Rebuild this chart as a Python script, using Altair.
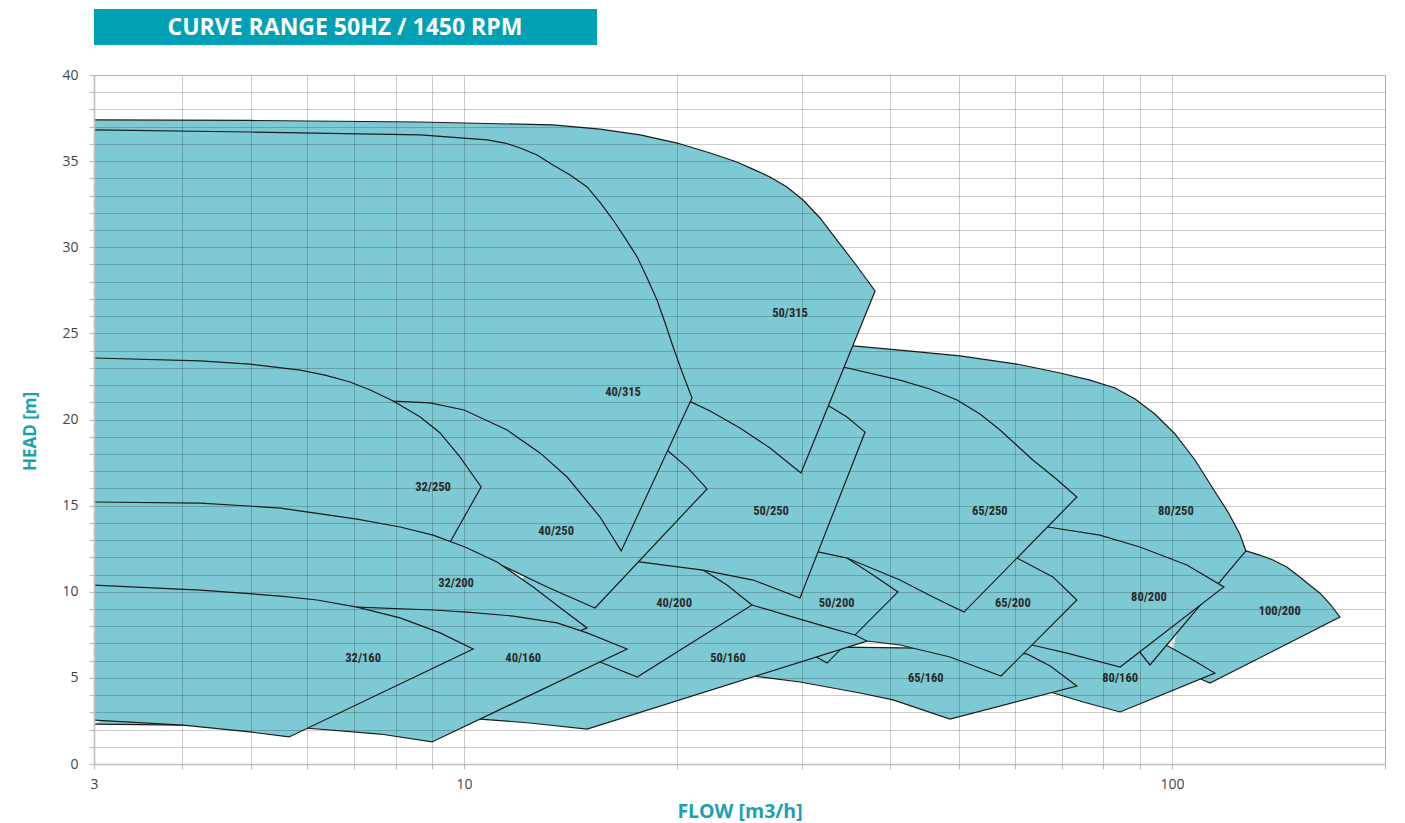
import altair as alt
import pandas as pd

# Operating ranges of the pump sizes at 1450 rpm.
# Each range: top curve and bottom curve as (flow m3/h, head m), both listed left to right.
T_50_315 = [(3.0, 37.39), (4.98, 37.36), (8.67, 37.27), (13.35, 37.10), (15.56, 36.86), (17.73, 36.52),
            (20.0, 36.05), (22.26, 35.47), (24.29, 34.95), (25.77, 34.48), (27.05, 34.08), (28.58, 33.50),
            (30.12, 32.74), (31.83, 31.70), (33.63, 30.42), (35.79, 28.97), (38.07, 27.46)]
B_50_315 = [(3.0, 24.03), (10.0, 23.45), (15.56, 22.29), (20.92, 21.02), (22.26, 20.49), (24.53, 19.51),
            (27.05, 18.35), (29.92, 16.89)]

T_40_315 = [(3.0, 36.81), (4.98, 36.69), (8.67, 36.52), (10.78, 36.23), (11.43, 36.05), (12.0, 35.76),
            (12.68, 35.36), (13.35, 34.77), (14.12, 34.19), (14.92, 33.50), (15.56, 32.60), (16.24, 31.58),
            (16.88, 30.54), (17.56, 29.43), (18.14, 28.21), (18.73, 26.94), (19.23, 25.60), (19.74, 24.21),
            (20.32, 22.76), (20.99, 21.25)]
B_40_315 = [(3.0, 22.0), (5.87, 21.6), (7.94, 21.07), (8.95, 20.96), (10.0, 20.55), (11.5, 19.39),
            (12.8, 18.06), (13.98, 16.66), (15.56, 14.34), (16.67, 12.37)]

T_32_250 = [(3.0, 23.57), (4.24, 23.40), (4.98, 23.22), (5.87, 22.87), (6.36, 22.58), (6.90, 22.18),
            (7.37, 21.71), (7.94, 21.07), (8.67, 20.15), (9.25, 19.22), (9.87, 17.82), (10.57, 16.08)]
B_32_250 = [(3.0, 14.46), (6.90, 13.88), (9.52, 12.77)]

T_32_200 = [(3.0, 15.21), (4.24, 15.15), (5.50, 14.86), (7.06, 14.22), (8.12, 13.76), (9.04, 13.29),
            (10.03, 12.60), (11.13, 11.73), (12.52, 10.28), (13.80, 8.94), (14.92, 7.90)]
B_32_200 = [(3.0, 9.52), (7.06, 8.07), (12.8, 6.73)]

T_40_160 = [(7.06, 9.11), (9.04, 8.94), (10.1, 8.82), (11.73, 8.59), (13.53, 8.19), (14.92, 7.61), (16.99, 6.68)]
B_40_160 = [(3.0, 2.32), (4.01, 2.26), (4.98, 2.21), (5.96, 2.09), (7.61, 1.74), (9.01, 1.28)]

T_32_160 = [(3.0, 10.39), (4.24, 10.10), (5.50, 9.75), (6.20, 9.52), (7.06, 9.11), (8.12, 8.48),
            (9.25, 7.61), (10.3, 6.68)]
B_32_160 = [(3.0, 2.55), (4.01, 2.26), (4.98, 1.86), (5.66, 1.57)]

T_40_250 = [(6.90, 22.0), (8.67, 21.42), (12.0, 20.55), (15.56, 19.68), (17.73, 18.98), (19.42, 18.17),
            (20.72, 17.18), (22.04, 15.97)]
B_40_250 = [(6.90, 13.58), (8.67, 12.71), (11.13, 11.67), (13.10, 10.28), (15.31, 9.06)]

T_50_250 = [(20.19, 23.16), (24.53, 22.58), (28.87, 21.71), (32.77, 20.78), (34.75, 20.15), (36.85, 19.27)]
B_50_250 = [(15.56, 11.84), (17.67, 11.73), (21.76, 11.26), (25.60, 10.68), (29.82, 9.64)]

T_40_200 = [(13.67, 12.31), (15.56, 12.08), (18.31, 11.96), (21.76, 11.26), (23.52, 10.39), (25.51, 9.23)]
B_40_200 = [(10.53, 9.06), (12.0, 7.78), (15.56, 5.92), (17.56, 5.05)]

T_50_160 = [(15.56, 9.64), (21.54, 9.52), (25.51, 9.23), (29.15, 8.53), (32.88, 7.90), (35.67, 7.49), (37.09, 7.14)]
B_50_160 = [(8.95, 2.84), (10.53, 2.61), (12.39, 2.38), (14.92, 2.03)]

T_50_200 = [(20.19, 13.58), (22.99, 13.29), (26.19, 13.0), (31.83, 12.31), (34.75, 11.96), (37.82, 10.97),
            (41.02, 9.99)]
B_50_200 = [(20.19, 7.78), (22.99, 7.20), (26.19, 6.91), (31.11, 6.33), (32.56, 5.86)]

T_65_160 = [(28.87, 6.62), (34.30, 6.79), (44.06, 6.73), (53.56, 6.56), (62.4, 6.39), (67.3, 5.69), (73.4, 4.53)]
B_65_160 = [(21.54, 5.57), (25.60, 5.11), (29.82, 4.76), (36.25, 4.12), (40.36, 3.72), (48.58, 2.61)]

T_65_200 = [(35.09, 13.58), (41.29, 13.29), (50.19, 12.71), (60.40, 11.96), (67.9, 10.86), (73.4, 9.52)]
B_65_200 = [(34.30, 7.43), (37.09, 7.14), (41.29, 6.91), (48.58, 6.21), (57.36, 5.11)]

T_65_250 = [(29.82, 23.57), (34.30, 23.05), (41.29, 22.29), (45.5, 21.77), (49.7, 21.13), (53.56, 20.32),
            (57.17, 19.39), (63.6, 17.65), (68.4, 16.60), (73.4, 15.50)]
B_65_250 = [(31.62, 12.31), (34.75, 11.96), (41.29, 10.68), (45.96, 9.70), (50.84, 8.82)]

T_80_250 = [(29.82, 24.38), (35.43, 24.27), (41.29, 24.03), (50.19, 23.69), (60.40, 23.22), (69.5, 22.70),
            (76.6, 22.29), (83.1, 21.83), (88.7, 21.19), (94.6, 20.32), (101.0, 19.16), (107.8, 17.65),
            (113.9, 16.08), (120.0, 14.63), (124.7, 13.35), (127.2, 12.37)]
B_80_250 = [(37.45, 14.17), (50.19, 10.10), (69.5, 8.07), (90.1, 6.50), (93.1, 5.75)]

T_80_200 = [(55.3, 14.17), (66.8, 13.76), (79.1, 13.29), (90.1, 12.60), (105.0, 11.55), (118.4, 10.28)]
B_80_200 = [(53.56, 7.78), (63.4, 6.91), (71.1, 6.44), (84.5, 5.63)]

T_80_160 = [(57.17, 7.20), (79.1, 7.78), (98.7, 6.85), (107.1, 6.04), (115.0, 5.28)]
B_80_160 = [(57.17, 4.30), (67.3, 4.18), (74.9, 3.60), (84.5, 3.02)]

T_100_200 = [(109.5, 13.0), (127.2, 12.37), (133.1, 12.13), (138.9, 11.84), (145.3, 11.44), (151.6, 10.86),
             (157.1, 10.33), (161.8, 9.93), (167.7, 9.23), (172.7, 8.53)]
B_100_200 = [(99.4, 6.04), (110.6, 4.88), (113.2, 4.70)]

# Painting order: later ranges are drawn over earlier ones.
RANGES = [
    ("100/200", T_100_200, B_100_200), ("80/160", T_80_160, B_80_160), ("80/250", T_80_250, B_80_250),
    ("80/200", T_80_200, B_80_200), ("65/160", T_65_160, B_65_160), ("65/200", T_65_200, B_65_200),
    ("50/200", T_50_200, B_50_200), ("50/160", T_50_160, B_50_160), ("40/200", T_40_200, B_40_200),
    ("65/250", T_65_250, B_65_250), ("50/250", T_50_250, B_50_250), ("40/250", T_40_250, B_40_250),
    ("50/315", T_50_315, B_50_315), ("40/315", T_40_315, B_40_315), ("32/250", T_32_250, B_32_250),
    ("32/200", T_32_200, B_32_200), ("40/160", T_40_160, B_40_160), ("32/160", T_32_160, B_32_160),
]

LABELS = ["32/160", "40/160", "50/160", "65/160", "80/160", "32/200", "40/200", "50/200", "65/200",
          "80/200", "100/200", "32/250", "40/250", "50/250", "65/250", "80/250", "40/315", "50/315"]
LABEL_Q = [7.20, 12.12, 23.6, 44.9, 84.5, 9.74, 19.8, 33.6, 59.6, 92.8, 142.0, 9.04, 13.49, 27.14, 55.3,
           101.3, 16.77, 28.87]
LABEL_H = [6.15, 6.15, 6.15, 4.99, 4.99, 10.51, 9.35, 9.35, 9.35, 9.70, 8.88, 16.08, 13.53, 14.69, 14.69,
           14.69, 21.6, 26.18]

X_TICKS = [3, 4, 5, 6, 7, 8, 9, 10, 20, 30, 40, 50, 60, 70, 80, 90, 100, 200]
X_LABELLED = [3, 10, 100]
Y_TICKS = list(range(0, 41))

TITLE = "CURVE RANGE 50HZ / 1450 RPM"

FILL = "#7dcad4"
EDGE = "#1c1c1c"
TEAL = "#1a9fb3"
BANNER = "#00a0b5"

x_axis = alt.Axis(
    values=X_TICKS,
    labelExpr="indexof([" + ",".join(str(v) for v in X_LABELLED) + "], datum.value) >= 0 ? datum.label : ''",
    format="d",
    title="FLOW [m3/h]",
    grid=True, gridColor="#000", gridOpacity=0.2, gridWidth=1,
    tickColor="#bdbdbd", tickSize=5, tickWidth=1.2,
    domainColor="#bdbdbd", domainWidth=1.6,
    labelFont="Open Sans", labelFontSize=14, labelColor="#444", labelPadding=8,
    labelOverlap=False, labelFlush=False,
    titleFont="Open Sans", titleFontSize=19.5, titleFontWeight="bold", titleColor=TEAL,
    titleY=47, titleBaseline="middle",
    zindex=1,
)
y_axis = alt.Axis(
    values=Y_TICKS,
    labelExpr="datum.value % 5 === 0 ? datum.label : ''",
    title="HEAD [m]",
    grid=True, gridColor="#000", gridOpacity=0.2, gridWidth=1,
    tickColor="#bdbdbd", tickSize=5, tickWidth=1.2,
    domainColor="#bdbdbd", domainWidth=1.6,
    labelFont="Open Sans", labelFontSize=14, labelColor="#444", labelPadding=11,
    labelOverlap=False, labelFlush=False,
    titleFont="Open Sans", titleFontSize=17, titleFontWeight="bold", titleColor=TEAL,
    titleX=-64, titleY=356, titleBaseline="middle", titleAlign="center",
    zindex=1,
)

x_enc = alt.X("Q:Q", scale=alt.Scale(type="log", domain=[3, 200], nice=False), axis=x_axis)
y_enc = alt.Y("H:Q", scale=alt.Scale(domain=[0, 40], nice=False, zero=True), axis=y_axis)

layers = []
for name, top, bottom in RANGES:
    pts = top + bottom[::-1]
    df = pd.DataFrame({
        "Q": [p[0] for p in pts],
        "H": [p[1] for p in pts],
        "i": list(range(len(pts))),
        "size": name,
    })
    layers.append(
        alt.Chart(df).mark_line(fill=FILL, stroke=EDGE, strokeWidth=1.2, strokeJoin="miter")
        .encode(x=x_enc, y=y_enc, order="i:Q")
    )

labels_df = pd.DataFrame({"Q": LABEL_Q, "H": LABEL_H, "name": LABELS})
labels = alt.Chart(labels_df).mark_text(
    font="Liberation Sans Narrow, Roboto Condensed, Roboto, sans-serif",
    fontSize=12.5, fontWeight="bold", color="#2a2a2a", align="center", baseline="middle",
).encode(x=x_enc, y=y_enc, text="name:N")

banner_df = pd.DataFrame({"t": [TITLE]})
banner = alt.Chart(banner_df).mark_rect(color=BANNER).encode(
    x=alt.value(0), x2=alt.value(503), y=alt.value(-66), y2=alt.value(-30)
)
banner_text = alt.Chart(banner_df).mark_text(
    font="Open Sans", fontSize=23, fontWeight="bold", color="white", align="center", baseline="middle",
).encode(x=alt.value(251), y=alt.value(-47.5), text="t:N")

chart = alt.layer(*layers, labels, banner, banner_text).properties(
    width=1291, height=689,
    padding={"left": 94, "top": 75, "right": 20, "bottom": 59},
    autosize=alt.AutoSizeParams(type="none"),
).configure_view(stroke=None).configure(background="white")

chart.save("out.html", embed_options={"renderer": "svg", "actions": False})
